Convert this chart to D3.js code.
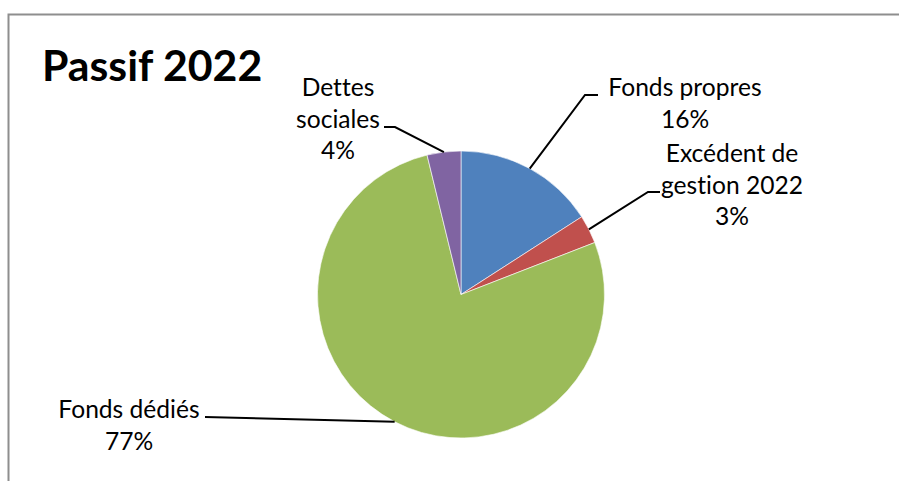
<!DOCTYPE html>
<meta charset="utf-8">

<!-- Load d3.js -->
<script src="https://d3js.org/d3.v7.min.js"></script>

<style>
    body { margin: 0; background: #fff; }
    text { font-family: Lato, "Open Sans", sans-serif; fill: #000; font-variant-ligatures: none; }
</style>
<body>
<div id="my_dataviz"></div>
<script>
    // data (clockwise from 12 o'clock)
    var categories = ["Fonds propres", "Excédent de gestion 2022", "Fonds dédiés", "Dettes sociales"]
    var values = [15.9, 3.2, 77.1, 3.8]
    var percentLabels = ["16%", "3%", "77%", "4%"]
    // label lines as they are wrapped in the picture
    var labelLines = [
        ["Fonds propres", "16%"],
        ["Excédent de", "gestion 2022", "3%"],
        ["Fonds dédiés", "77%"],
        ["Dettes", "sociales", "4%"]
    ]
    var colors = ["#4F81BD", "#C0504D", "#9BBB59", "#8064A2"]

    var width = 899, height = 481
    var cx = 461, cy = 294.5, radius = 143.5

    // where each label sits and where its leader line bends
    var labelLayout = [
        {x: 685, y: 96, lineX: [[585, 95], [598, 95]]},
        {x: 732, y: 162, lineX: [[648, 192], [660, 192]]},
        {x: 129, y: 418, lineX: [[205, 417]]},
        {x: 338, y: 96, lineX: [[395, 127], [384, 127]]}
    ]

    var svg = d3.select("#my_dataviz")
        .append("svg")
        .attr("width", width)
        .attr("height", height)

    // chart border (right and bottom run off the picture)
    svg.append("rect")
        .attr("x", 8.5)
        .attr("y", 14.5)
        .attr("width", 1000)
        .attr("height", 1000)
        .style("fill", "none")
        .style("stroke", "#8e8e8e")
        .style("stroke-width", 2)

    // title
    svg.append("text")
        .attr("x", 42)
        .attr("y", 81)
        .style("font-size", "42.8px")
        .style("font-weight", "bold")
        .text("Passif 2022")

    var pie = d3.pie().sort(null).value(function(d) { return d })
    var arcs = pie(values)

    var arc = d3.arc().innerRadius(0).outerRadius(radius)

    var g = svg.append("g")
        .attr("transform", "translate(" + cx + "," + cy + ")")

    g.selectAll("path")
        .data(arcs)
        .enter()
        .append("path")
        .attr("d", arc)
        .style("fill", function(d, i) { return colors[i] })
        .style("stroke", "#fff")
        .style("stroke-width", 0.6)

    // leader lines: from the middle of each slice edge to the label
    arcs.forEach(function(d, i) {
        var mid = (d.startAngle + d.endAngle) / 2
        var start = [cx + radius * Math.sin(mid), cy - radius * Math.cos(mid)]
        var pts = [start].concat(labelLayout[i].lineX)
        svg.append("path")
            .attr("d", d3.line()(pts))
            .style("fill", "none")
            .style("stroke", "#000")
            .style("stroke-width", 2)
    })

    // labels
    labelLines.forEach(function(lines, i) {
        var t = svg.append("text")
            .attr("text-anchor", "middle")
            .style("font-size", "24.6px")
        lines.forEach(function(l, j) {
            t.append("tspan")
                .attr("x", labelLayout[i].x)
                .attr("y", labelLayout[i].y + j * 31.5)
                .text(l)
        })
    })
</script>
</body>
